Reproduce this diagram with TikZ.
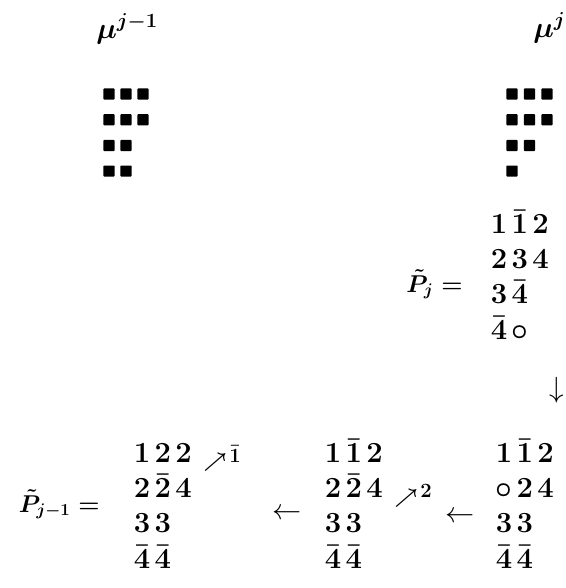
\documentclass[tikz,border=0pt]{standalone}
\usetikzlibrary{matrix, positioning}
\begin{document}
\begin{tikzpicture}[
    x=0.025cm, y=-0.025cm,
    every node/.style={font=\fontsize{20}{24}\selectfont\boldmath, inner sep=0pt},
    sq/.style={fill=black, rectangle, rounded corners=0.6pt, minimum size=0.28cm},
    tab/.style={matrix of math nodes, nodes={anchor=base},
                row sep={0.885cm,between origins},
                column sep={0.52cm,between origins}},
    shape lab/.style={font=\fontsize{22}{26}\selectfont\boldmath},
    eq lab/.style={font=\fontsize{18.5}{22}\selectfont\boldmath},
    move/.style={font=\fontsize{14}{16}\selectfont\boldmath, yshift=-4pt},
    arr/.style={font=\fontsize{21}{25}\selectfont}
]
\useasboundingbox (0,0) rectangle (566,588);
% Shape mu^{j-1}
\node (muold) [shape lab, anchor=base west] at (96,38) {$\mu^{j-1}$};
\foreach \r/\n in {1/3, 2/3, 3/2, 4/2} {
    \foreach \c in {1,...,\n} {
        \node[sq] (old-\r-\c) at ({109+17*(\c-1)}, {94+25.7*(\r-1)}) {};
    }
}
% Shape mu^j
\node (munew) [shape lab, anchor=base west] at (533,37) {$\mu^{j}$};
\foreach \r/\n in {1/3, 2/3, 3/2, 4/1} {
    \foreach \c in {1,...,\n} {
        \node[sq] (new-\r-\c) at ({512+17.5*(\c-1)}, {94+25.7*(\r-1)}) {};
    }
}
% Tableau P_j
\node (Pj) [eq lab, anchor=base east] at (463,292) {$\tilde P_j =$};
\matrix (Tj) [tab, matrix anchor=Tj-1-1.base] at (499,233) {
    1 & \bar1 & 2 \\
    2 & 3 & 4 \\
    3 & \bar4 \\
    \bar4 & \circ \\
};
\node (down) [arr] at (557,390) {$\downarrow$};
% Bottom row, right to left
\matrix (Tnew) [tab, matrix anchor=Tnew-1-1.base] at (504,462) {
    1 & \bar1 & 2 \\
    \circ & 2 & 4 \\
    3 & 3 \\
    \bar4 & \bar4 \\
};
\node (left2) [arr] at (460,517) {$\leftarrow$};
\matrix (Tmid) [tab, matrix anchor=Tmid-1-1.base] at (333,462) {
    1 & \bar1 & 2 \\
    2 & \bar2 & 4 \\
    3 & 3 \\
    \bar4 & \bar4 \\
};
\node (up2) [move, base right=0.28cm of Tmid-2-3] {$\nearrow\mkern-3mu\raisebox{4pt}{$2$}$};
\node (left1) [arr] at (287,514) {$\leftarrow$};
\matrix (Tjm) [tab, matrix anchor=Tjm-1-1.base] at (142,462) {
    1 & 2 & 2 \\
    2 & \bar2 & 4 \\
    3 & 3 \\
    \bar4 & \bar4 \\
};
\node (up1) [move, base right=0.28cm of Tjm-1-3] {$\nearrow\mkern-3mu\raisebox{4pt}{$\bar1$}$};
\node (Pjm) [eq lab, anchor=base east] at (100,512) {$\tilde P_{j-1} =$};
\end{tikzpicture}
\end{document}
